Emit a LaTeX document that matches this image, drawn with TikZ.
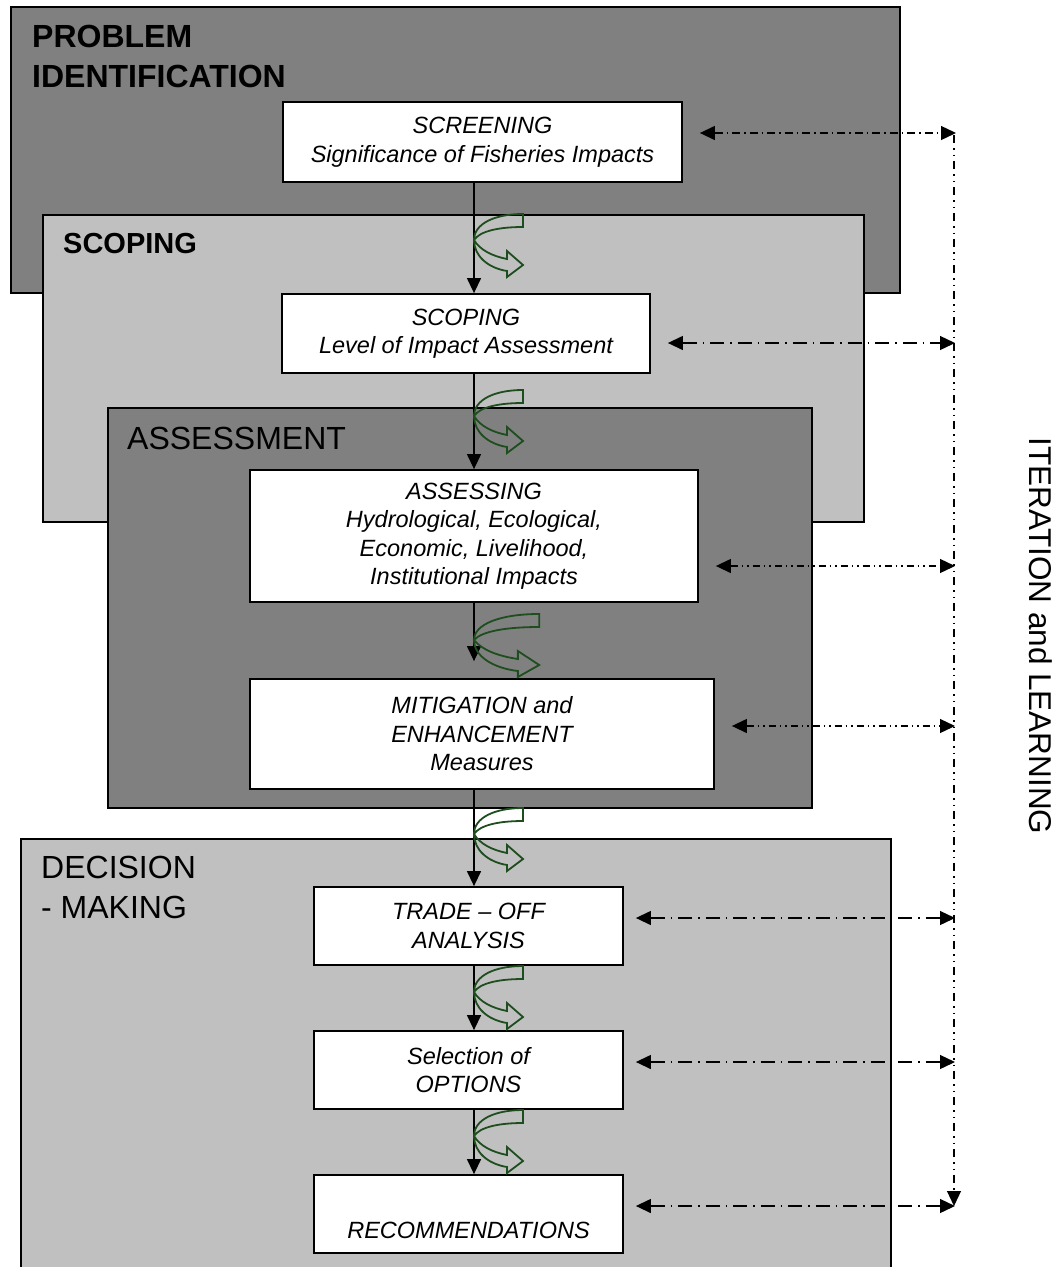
\documentclass[tikz,border=0pt]{standalone}
\usepackage{fontspec}
\setmainfont{Liberation Sans}
\usetikzlibrary{arrows.meta,calc}
\definecolor{dgray}{HTML}{808080}
\definecolor{lgray}{HTML}{C0C0C0}
\definecolor{arrgreen}{HTML}{1E4D1E}
\newcommand{\myturn}[3]{%
  \begin{scope}[shift={(#1,#2)},xscale=#3]
    \draw[turn] (49,0) -- (49,13) .. controls (25,13) and (6,17) .. (0,26)
      .. controls (6,36) and (18,42) .. (33,45) -- (33,37) -- (49,51) -- (33,63) -- (33,57)
      .. controls (14,54) and (0,42) .. (0,26)
      .. controls (0,10) and (20,0) .. (49,0) -- cycle;
  \end{scope}}
\begin{document}
\begin{tikzpicture}[x=1pt,y=-1pt,
  panel/.style={draw=black,line width=1.5pt,anchor=north west,inner sep=0pt},
  wbox/.style={draw=black,fill=white,line width=1.8pt,inner sep=0pt,align=center,
    font=\fontsize{23.5}{28.5}\selectfont\itshape},
  headbig/.style={inner sep=0pt,align=left,font=\fontsize{32}{40}\selectfont},
  flow/.style={line width=1.3pt,-{Triangle[length=15pt,width=14pt]}},
  iterbase/.style={line width=1.3pt,{Triangle[length=15pt,width=14pt]}-{Triangle[length=15pt,width=14pt]}},
  itershort/.style={iterbase,dash pattern=on 8pt off 4pt on 1.5pt off 4pt},
  iterdd/.style={iterbase,dash pattern=on 7pt off 4pt on 1.5pt off 4pt on 1.5pt off 4pt},
  iterlong/.style={iterbase,dash pattern=on 14pt off 6pt on 1.5pt off 6pt},
  vline/.style={line width=1.1pt,dash pattern=on 8pt off 5pt on 1.5pt off 5pt on 1.5pt off 5pt,
    -{Triangle[length=15pt,width=14pt]}},
  turn/.style={draw=arrgreen,line width=1.8pt,line join=miter}
]
\path[use as bounding box] (0,0) rectangle (1060,1267);

% panels
\node[panel,fill=dgray,minimum width=889pt,minimum height=286pt] (pid) at (10,6) {};
\node[headbig,font=\fontsize{32}{40}\selectfont\bfseries,anchor=north west] (pidt) at (32,24.5) {PROBLEM\\IDENTIFICATION};
\node[panel,fill=lgray,minimum width=821pt,minimum height=307pt] (scp) at (42,214) {};
\node[inner sep=0pt,anchor=base west,font=\fontsize{29}{34}\selectfont\bfseries] (scpt) at (63,253) {SCOPING};
\node[panel,fill=dgray,minimum width=704pt,minimum height=400pt] (asm) at (107,407) {};
\node[headbig,anchor=base west] (asmt) at (127,449) {ASSESSMENT};
\node[panel,fill=lgray,minimum width=870pt,minimum height=450pt] (dec) at (20,838) {};
\node[headbig,anchor=north west] (dect) at (41,856) {DECISION\\- MAKING};

% white boxes
\node[wbox,minimum width=399pt,minimum height=80pt] (scr) at (482.5,142) {SCREENING\\Significance of Fisheries Impacts};
\node[wbox,minimum width=368pt,minimum height=79pt] (scin) at (466,333.5) {SCOPING\\Level of Impact Assessment};
\node[wbox,minimum width=448pt,minimum height=132pt] (asin) at (474,536) {ASSESSING\\Hydrological, Ecological,\\Economic, Livelihood,\\Institutional Impacts};
\node[wbox,minimum width=464pt,minimum height=110pt] (mit) at (482,734) {MITIGATION and\\ENHANCEMENT\\Measures};
\node[wbox,minimum width=309pt,minimum height=78pt] (trd) at (468.5,926) {TRADE -- OFF\\ANALYSIS};
\node[wbox,minimum width=309pt,minimum height=78pt] (sel) at (468.5,1070) {Selection of\\OPTIONS};
\node[wbox,minimum width=309pt,minimum height=78pt] (rec) at (468.5,1214) {\strut\\RECOMMENDATIONS};

% main flow
\coordinate (ax) at (474,0);
\draw[flow] (scr.south -| ax) -- (scin.north -| ax);
\draw[flow] (scin.south -| ax) -- (asin.north -| ax);
\draw[flow,shorten >=17pt] (asin.south -| ax) -- (mit.north -| ax);
\draw[flow] (mit.south -| ax) -- (trd.north -| ax);
\draw[flow] (trd.south -| ax) -- (sel.north -| ax);
\draw[flow] (sel.south -| ax) -- (rec.north -| ax);

% green turning arrows
\myturn{474}{214}{1}
\myturn{474}{390}{1}
\myturn{474}{614}{1.33}
\myturn{474}{808}{1}
\myturn{474}{966}{1}
\myturn{474}{1110}{1}

% iteration connectors
\coordinate (v1) at (956,133);
\coordinate (v2) at (955,343);
\coordinate (v3) at (955,566);
\coordinate (v4) at (955,726);
\coordinate (v5) at (955,918);
\coordinate (v6) at (955,1062);
\coordinate (v7) at (955,1206);
\draw[itershort,shorten <=17pt] (scr.east |- v1) -- (v1);
\draw[iterlong,shorten <=17pt] (scin.east |- v2) -- (v2);
\draw[iterdd,shorten <=17pt] (asin.east |- v3) -- (v3);
\draw[iterdd,shorten <=17pt] (mit.east |- v4) -- (v4);
\draw[iterlong,shorten <=12pt] (trd.east |- v5) -- (v5);
\draw[iterlong,shorten <=12pt] (sel.east |- v6) -- (v6);
\draw[iterlong,shorten <=12pt] (rec.east |- v7) -- (v7);
\draw[vline] ([xshift=-2pt,yshift=-2pt]v1) -- ([xshift=-1pt]v7);

\node[rotate=-90,inner sep=0pt,font=\fontsize{31.5}{37}\selectfont] (itl) at (1041,636) {ITERATION and LEARNING};
\end{tikzpicture}
\end{document}
